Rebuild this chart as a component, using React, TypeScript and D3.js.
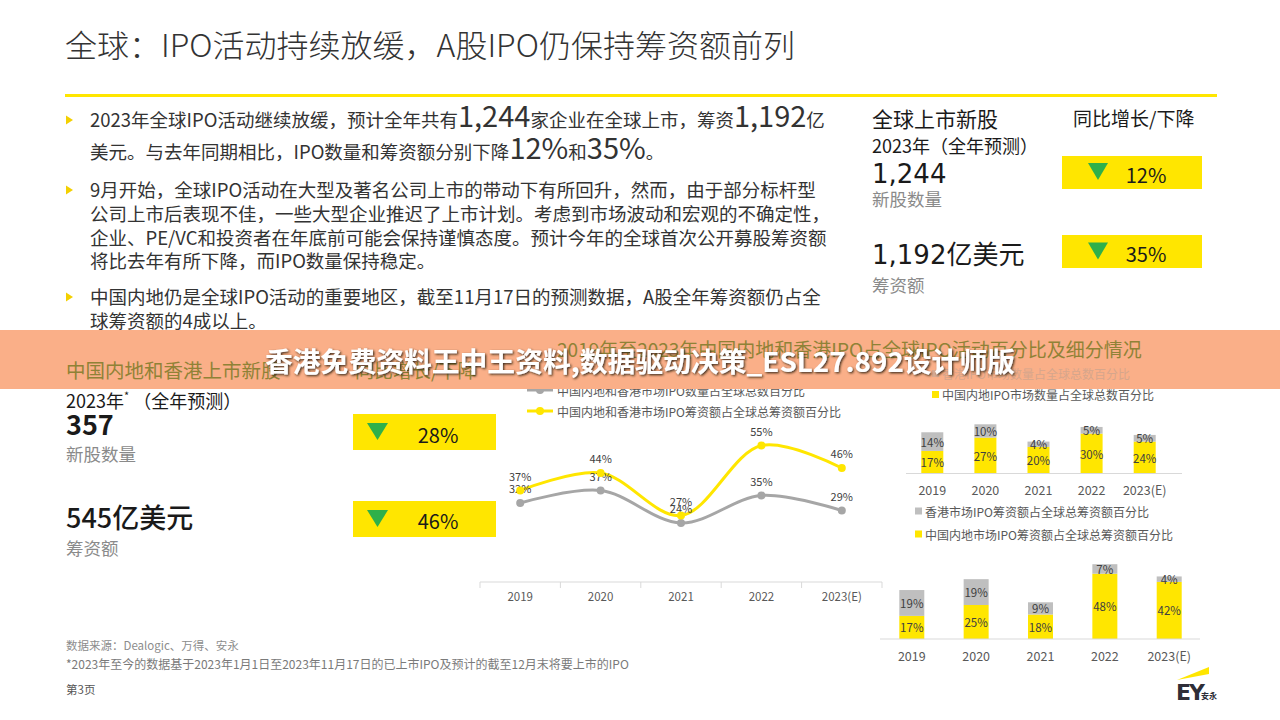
import React from "react";
import * as d3 from "d3";

const years = ["2019", "2020", "2021", "2022", "2023(E)"];
const countShare = [32, 37, 24, 35, 29];
const amountShare = [37, 44, 27, 55, 46];
const hkCountShare = [14, 10, 4, 5, 5];
const cnCountShare = [17, 27, 20, 30, 24];
const hkAmountShare = [19, 19, 9, 7, 4];
const cnAmountShare = [17, 25, 18, 48, 42];

const globalValues = ["1,244", "1,192亿美元"];
const globalLabels = ["新股数量", "筹资额"];
const globalChanges = ["12%", "35%"];
const chinaValues = ["357", "545亿美元"];
const chinaLabels = ["新股数量", "筹资额"];
const chinaChanges = ["28%", "46%"];

const lineLegend = [
  "中国内地和香港市场IPO数量占全球总数百分比",
  "中国内地和香港市场IPO筹资额占全球总筹资额百分比",
];

const F = '"Noto Sans CJK SC", "Noto Sans", sans-serif';
const YEL = "#ffe600";
const GRY = "#bfbfbf";
const LGRY = "#a6a6a6";
const GREEN = "#2fb04a";

function Tri({ x, y, w = 21, h = 17 }: { x: number; y: number; w?: number; h?: number }) {
  return <path d={`M${x},${y}L${x + w},${y}L${x + w / 2},${y + h}Z`} fill={GREEN} />;
}

function Bullet({ y }: { y: number }) {
  return <path d={`M66,${y - 4.5}L73,${y}L66,${y + 4.5}Z`} fill="#f3d000" />;
}

export default function App() {
  // line chart
  const x = d3.scaleBand<string>().domain(years).range([480, 882]);
  const cx = (i: number) => (x(years[i]) as number) + x.bandwidth() / 2;
  const y = d3.scaleLinear().domain([0, 80]).range([583, 383]);
  const line = d3
    .line<number>()
    .x((_, i) => cx(i))
    .y((d) => y(d))
    .curve(d3.curveCatmullRom.alpha(0.5));

  // bar chart 1 (count)
  const xb1 = d3.scalePoint<string>().domain(years).range([932.3, 1144.7]);
  const yb1 = d3.scaleLinear().domain([0, 100]).range([473.5, 340.5]);
  // bar chart 2 (amount)
  const xb2 = d3.scalePoint<string>().domain(years).range([911.8, 1169.2]);
  const yb2 = d3.scaleLinear().domain([0, 100]).range([639, 503]);

  const edges = [...years.map((yr) => x(yr) as number), 882];

  const stacked = (
    xs: d3.ScalePoint<string>,
    ys: d3.ScaleLinear<number, number>,
    cn: number[],
    hk: number[],
    bw: number
  ) =>
    years.map((yr, i) => {
      const c = xs(yr) as number;
      const y0 = ys(0);
      const y1 = ys(cn[i]);
      const y2 = ys(cn[i] + hk[i]);
      return (
        <g key={yr}>
          <rect x={c - bw / 2} y={y1} width={bw} height={y0 - y1} fill={YEL} />
          <rect x={c - bw / 2} y={y2} width={bw} height={y1 - y2} fill={GRY} />
          <text x={c} y={(y0 + y1) / 2} textAnchor="middle" dominantBaseline="central" fontSize={11.5} fill="#404040">
            {cn[i]}%
          </text>
          <text x={c} y={(y1 + y2) / 2} textAnchor="middle" dominantBaseline="central" fontSize={11.5} fill="#404040">
            {hk[i]}%
          </text>
        </g>
      );
    });

  return (
    <svg
      width={1280}
      height={720}
      viewBox="0 0 1280 720"
      style={{ position: "absolute", left: 0, top: 0, background: "#fff" }}
      fontFamily={F}
    >
      <defs>
        <filter id="sh" x="-5%" y="-30%" width="110%" height="160%">
          <feDropShadow dx="1.2" dy="1.2" stdDeviation="1" floodColor="#2a1a10" floodOpacity="0.9" />
        </filter>
      </defs>
      <rect width={1280} height={720} fill="#fff" />

      {/* Title */}
      <text x={65} y={57} fontSize={31} fontWeight={300} fill="#333" textLength={730} lengthAdjust="spacingAndGlyphs">
        全球：IPO活动持续放缓，A股IPO仍保持筹资额前列
      </text>
      <rect x={65} y={94} width={1152} height={3} fill={YEL} />

      {/* Bullets */}
      <g fill="#333" fontSize={18.5}>
        <Bullet y={120} />
        <text x={90} y={127}>
          2023年全球IPO活动继续放缓，预计全年共有<tspan fontSize={29}>1,244</tspan>家企业在全球上市，筹资
          <tspan fontSize={29}>1,192</tspan>亿
        </text>
        <text x={90} y={159}>
          美元。与去年同期相比，IPO数量和筹资额分别下降<tspan fontSize={29}>12%</tspan>和<tspan fontSize={29}>35%</tspan>。
        </text>
        <Bullet y={190} />
        <text x={90} y={196.5}>9月开始，全球IPO活动在大型及著名公司上市的带动下有所回升，然而，由于部分标杆型</text>
        <text x={90} y={220.5}>公司上市后表现不佳，一些大型企业推迟了上市计划。考虑到市场波动和宏观的不确定性，</text>
        <text x={90} y={244.5}>企业、PE/VC和投资者在年底前可能会保持谨慎态度。预计今年的全球首次公开募股筹资额</text>
        <text x={90} y={267.5}>将比去年有所下降，而IPO数量保持稳定。</text>
        <Bullet y={297} />
        <text x={90} y={303.5}>中国内地仍是全球IPO活动的重要地区，截至11月17日的预测数据，A股全年筹资额仍占全</text>
        <text x={90} y={327.5}>球筹资额的4成以上。</text>
      </g>

      {/* Right top panel */}
      <text x={872} y={117.5} fontSize={21} dominantBaseline="central" fill="#1a1a1a">全球上市新股</text>
      <text x={1073} y={117} fontSize={19} dominantBaseline="central" fill="#1a1a1a">同比增长/下降</text>
      <text x={872} y={144.5} fontSize={18} dominantBaseline="central" fill="#1a1a1a">2023年（全年预测）</text>
      {globalValues.map((v, i) => (
        <g key={v}>
          <text x={872} y={i === 0 ? 183 : 264} fill="#1a1a1a">
            {i === 0 ? (
              <tspan fontFamily='"DejaVu Sans", sans-serif' fontSize={26}>{v}</tspan>
            ) : (
              <>
                <tspan fontFamily='"DejaVu Sans", sans-serif' fontSize={26}>{v.slice(0, 5)}</tspan>
                <tspan fontSize={26}>{v.slice(5)}</tspan>
              </>
            )}
          </text>
          <text x={872} y={i === 0 ? 198.5 : 284.5} fontSize={17.5} dominantBaseline="central" fill="#8a8a8a">
            {globalLabels[i]}
          </text>
          <rect x={1062} y={i === 0 ? 156 : 235} width={140} height={33} fill={YEL} />
          <Tri x={1088} y={i === 0 ? 163 : 242.5} w={20} h={17} />
          <text x={1146} y={i === 0 ? 174 : 253.5} fontSize={20} textAnchor="middle" dominantBaseline="central" fill="#1a1a1a">
            {globalChanges[i]}
          </text>
        </g>
      ))}

      {/* Left lower panel */}
      <text x={66} y={399.5} fontSize={18} dominantBaseline="central" fill="#1a1a1a">
        2023年<tspan fontSize={11} dy={-5}>*</tspan>
        <tspan dy={5}> （全年预测）</tspan>
      </text>
      {chinaValues.map((v, i) => (
        <g key={v}>
          <text x={66} y={i === 0 ? 435 : 528} fontSize={27} fontWeight={i === 0 ? 700 : 500} fill="#1a1a1a">
            {v}
          </text>
          <text x={66} y={i === 0 ? 453.5 : 547.5} fontSize={17.5} dominantBaseline="central" fill="#8a8a8a">
            {chinaLabels[i]}
          </text>
          <rect x={353} y={i === 0 ? 414 : 501} width={143} height={36} fill={YEL} />
          <Tri x={367} y={i === 0 ? 423 : 510} w={21} h={17} />
          <text x={438} y={i === 0 ? 434.5 : 520.5} fontSize={20} textAnchor="middle" dominantBaseline="central" fill="#1a1a1a">
            {chinaChanges[i]}
          </text>
        </g>
      ))}

      {/* Line chart */}
      <line x1={480} x2={882} y1={582} y2={582} stroke="#d9d9d9" />
      {edges.map((e, i) => (
        <line key={i} x1={e} x2={e} y1={582} y2={588} stroke="#d9d9d9" />
      ))}
      {years.map((yr, i) => (
        <text key={yr} x={cx(i)} y={596} fontSize={11.5} textAnchor="middle" dominantBaseline="central" fill="#595959">
          {yr}
        </text>
      ))}
      <path d={line(countShare) || ""} fill="none" stroke={LGRY} strokeWidth={3} />
      <path d={line(amountShare) || ""} fill="none" stroke={YEL} strokeWidth={3} />
      {countShare.map((v, i) => (
        <g key={"c" + i}>
          <circle cx={cx(i)} cy={y(v)} r={4} fill={LGRY} />
          <text x={cx(i)} y={y(v) - 15} fontSize={11} textAnchor="middle" dominantBaseline="central" fill="#404040">
            {v}%
          </text>
        </g>
      ))}
      {amountShare.map((v, i) => (
        <g key={"a" + i}>
          <circle cx={cx(i)} cy={y(v)} r={4} fill={YEL} />
          <text x={cx(i)} y={y(v) - 15} fontSize={11} textAnchor="middle" dominantBaseline="central" fill="#404040">
            {v}%
          </text>
        </g>
      ))}
      {lineLegend.map((t, i) => (
        <g key={t}>
          <line x1={527} x2={553} y1={390 + i * 21} y2={390 + i * 21} stroke={i === 0 ? LGRY : YEL} strokeWidth={3} />
          <circle cx={540} cy={390 + i * 21} r={4} fill={i === 0 ? LGRY : YEL} />
          <text x={557} y={390 + i * 21} fontSize={12} dominantBaseline="central" fill="#595959">
            {t}
          </text>
        </g>
      ))}

      {/* Bar chart 1 */}
      <rect x={932} y={391} width={7} height={7} fill={YEL} />
      <text x={942} y={394.5} fontSize={12} dominantBaseline="central" fill="#595959">中国内地IPO市场数量占全球总数百分比</text>
      {stacked(xb1, yb1, cnCountShare, hkCountShare, 22)}
      <line x1={906} x2={1182} y1={473.5} y2={473.5} stroke="#d9d9d9" />
      {years.map((yr) => (
        <text key={yr} x={xb1(yr)} y={489} fontSize={12.5} textAnchor="middle" dominantBaseline="central" fill="#595959">
          {yr}
        </text>
      ))}
      <rect x={915} y={507.5} width={7} height={7} fill={GRY} />
      <text x={925} y={511} fontSize={12} dominantBaseline="central" fill="#595959">香港市场IPO筹资额占全球总筹资额百分比</text>
      <rect x={915} y={530.5} width={7} height={7} fill={YEL} />
      <text x={925} y={534} fontSize={12} dominantBaseline="central" fill="#595959">中国内地市场IPO筹资额占全球总筹资额百分比</text>

      {/* Bar chart 2 */}
      {stacked(xb2, yb2, cnAmountShare, hkAmountShare, 25)}
      <line x1={880} x2={1200} y1={639} y2={639} stroke="#d9d9d9" />
      {years.map((yr) => (
        <text key={yr} x={xb2(yr)} y={655} fontSize={12.5} textAnchor="middle" dominantBaseline="central" fill="#595959">
          {yr}
        </text>
      ))}

      {/* Footer */}
      <text x={66} y={645} fontSize={11.5} dominantBaseline="central" fill="#8c8c8c">数据来源：Dealogic、万得、安永</text>
      <text x={66} y={663} fontSize={12} dominantBaseline="central" fill="#7a7a7a">
        *2023年至今的数据基于2023年1月1日至2023年11月17日的已上市IPO及预计的截至12月末将要上市的IPO
      </text>
      <text x={66} y={689} fontSize={11.5} dominantBaseline="central" fill="#555">第3页</text>

      {/* EY logo */}
      <path d="M1177,680L1209,667L1209,674Z" fill={YEL} />
      <text x={1176} y={700} fontSize={22} fontWeight={700} fill="#2e2e38" fontFamily='"DejaVu Sans", sans-serif' letterSpacing={-2}>
        EY
      </text>
      <text x={1201} y={699} fontSize={8} fontWeight={700} fill="#2e2e38">安永</text>

      {/* Banner overlay */}
      <rect x={0} y={330} width={1280} height={59} fill="#faaf88" />
      <g fill="#8f8236">
        <text x={66} y={369} fontSize={19.5} dominantBaseline="central">中国内地和香港上市新股</text>
        <text x={355} y={369} fontSize={19} dominantBaseline="central">同比增长/下降</text>
        <text x={557} y={348} fontSize={19} dominantBaseline="central">
          2019年至2023年中国内地和香港IPO占全球IPO活动百分比及细分情况
        </text>
      </g>
      <rect x={932} y={370} width={7} height={7} fill="#d9ab92" />
      <text x={942} y={373.5} fontSize={12} dominantBaseline="central" fill="#d6a68c">香港IPO市场数量占全球总数百分比</text>
      <text
        x={640}
        y={360}
        fontSize={27}
        fontWeight={700}
        fill="#fff"
        textAnchor="middle"
        dominantBaseline="central"
        textLength={750}
        lengthAdjust="spacingAndGlyphs"
        filter="url(#sh)"
      >
        香港免费资料王中王资料,数据驱动决策_ESL27.892设计师版
      </text>
    </svg>
  );
}
